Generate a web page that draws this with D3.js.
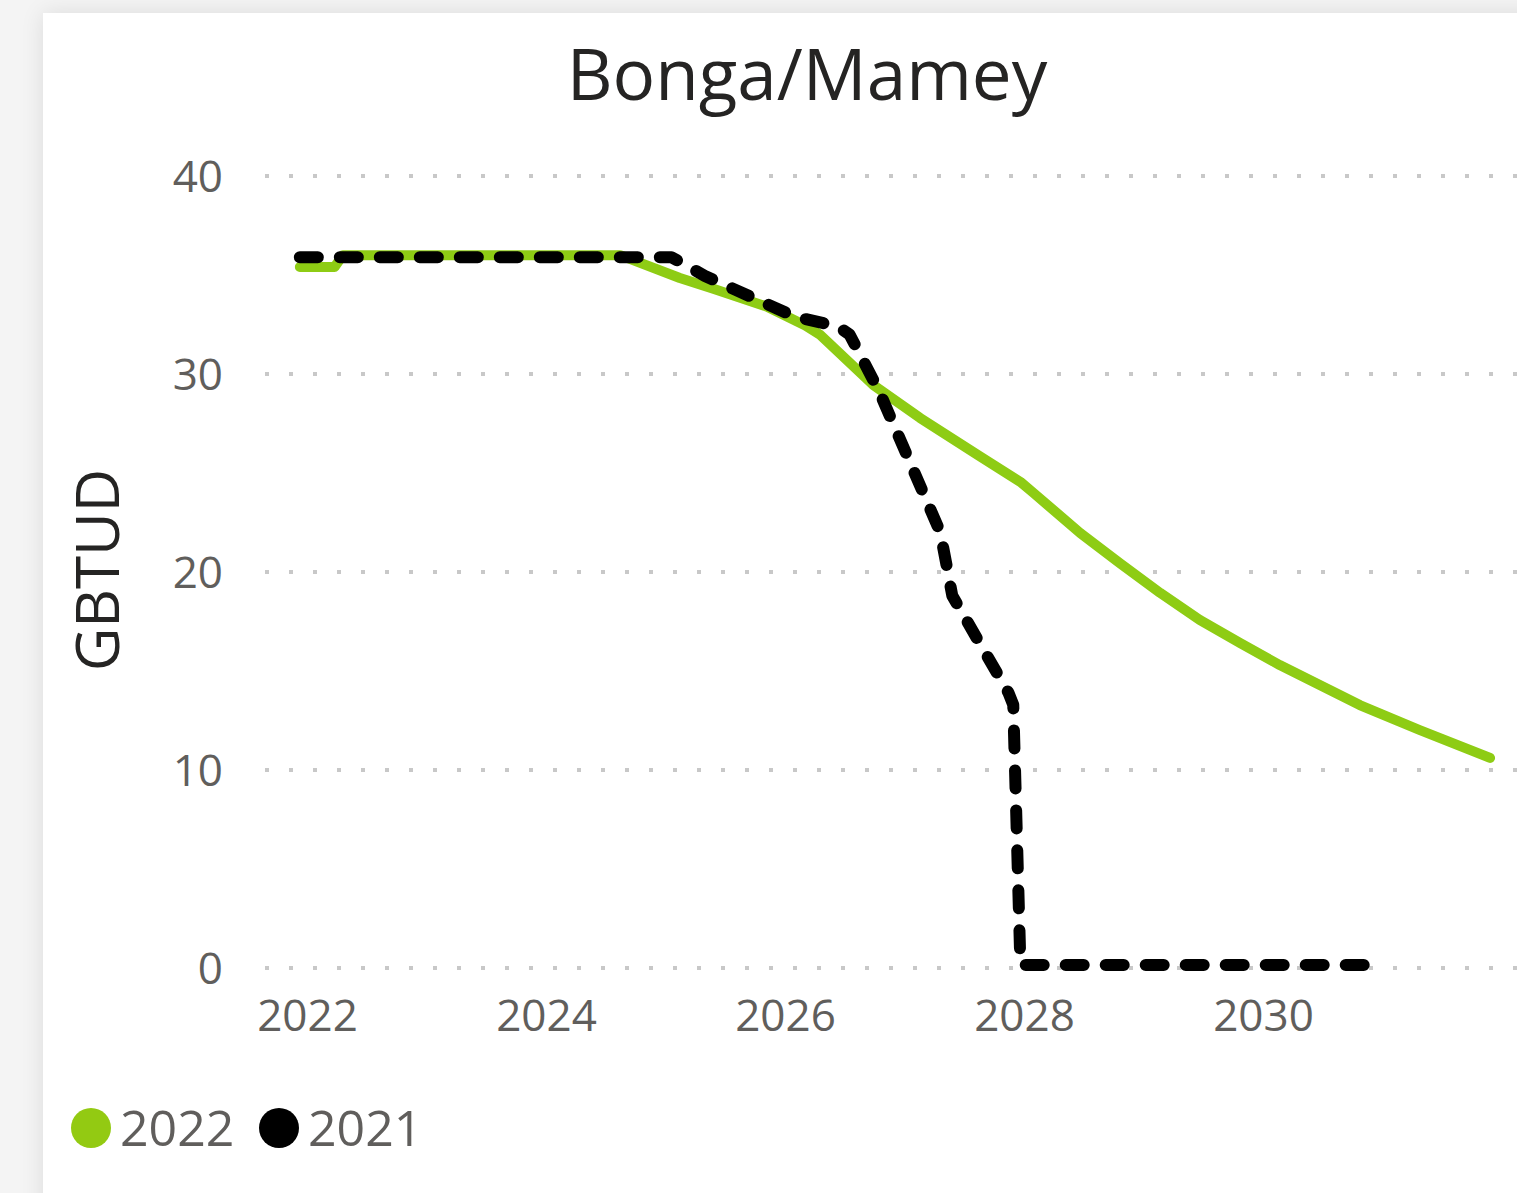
<!DOCTYPE html>
<html><head><meta charset="utf-8">
<script src="https://cdn.jsdelivr.net/npm/d3@7"></script>
<style>
html,body{margin:0;padding:0;background:#f4f4f4;width:1517px;height:1193px;overflow:hidden;}
#card{position:absolute;left:43px;top:13px;width:1600px;height:1300px;background:#fff;box-shadow:0 0 22px rgba(0,0,0,0.10);}
svg{position:absolute;left:0;top:0;}
</style></head><body>
<div id="card"></div>
<svg id="chart" width="1517" height="1193"></svg>
<script>
const title = "Bonga/Mamey";
const yAxisTitle = "GBTUD";
const seriesNames = ["2022", "2021"];
const seriesColors = ["#8ecc14", "#000000"];
const xTicks = [2022, 2024, 2026, 2028, 2030];
const yTicks = [0, 10, 20, 30, 40];

const years2022 = [2021.94, 2022.23, 2022.30, 2024.62, 2025.12, 2025.40, 2025.85, 2026.17, 2026.29, 2026.74, 2027.13, 2027.63, 2027.97, 2028.08, 2028.47, 2028.80, 2029.14, 2029.47, 2029.81, 2030.14, 2030.81, 2031.31, 2031.90];
const values2022 = [35.4, 35.4, 36.0, 36.0, 34.85, 34.3, 33.4, 32.45, 32.0, 29.44, 27.78, 25.85, 24.55, 23.99, 21.97, 20.45, 18.94, 17.58, 16.41, 15.30, 13.28, 12.02, 10.61];

const years2021 = [2021.94, 2025.05, 2025.33, 2026.08, 2026.44, 2026.54, 2026.79, 2027.30, 2027.40, 2027.87, 2027.91, 2027.97, 2030.90];
const values2021 = [35.9, 35.9, 34.95, 32.9, 32.4, 32.0, 29.1, 22.0, 18.8, 13.9, 13.3, 0.15, 0.15];

const svg = d3.select("#chart");
const FONT = "'Open Sans', 'Noto Sans', sans-serif";

const x = d3.scaleLinear().domain([2022, 2030]).range([307, 1263]);
const y = d3.scaleLinear().domain([0, 40]).range([968, 176]);

// title
svg.append("text").attr("x", 807).attr("y", 100).attr("text-anchor", "middle")
  .attr("font-family", FONT).attr("font-size", 71).attr("fill", "#252423").text(title);

// y labels
const yAxis = d3.axisLeft(y).tickValues(yTicks).tickSize(0).tickPadding(0);
const yg = svg.append("g").attr("transform", "translate(223,0)").call(yAxis);
yg.select(".domain").remove();
yg.selectAll("text").attr("font-family", FONT).attr("font-size", 44).attr("fill", "#605e5c")
  .attr("dy", "0.36em").attr("x", 0);

// grid
const grid = svg.append("g");
grid.selectAll("line").data(yTicks).join("line")
  .attr("x1", 265).attr("x2", 1517).attr("y1", d => y(d)).attr("y2", d => y(d))
  .attr("stroke", "#c8c8c8").attr("stroke-width", 4).attr("stroke-dasharray", "4 20");

// x axis
const xAxis = d3.axisBottom(x).tickValues(xTicks).tickFormat(d3.format("d")).tickSize(0).tickPadding(0);
const xg = svg.append("g").attr("transform", "translate(0,1031)").call(xAxis);
xg.select(".domain").remove();
xg.selectAll("text").attr("font-family", FONT).attr("font-size", 44).attr("fill", "#605e5c").attr("dy", 0).attr("y", 0);

// y axis title
svg.append("text").attr("transform", "translate(119,570) rotate(-90)").attr("text-anchor", "middle")
  .attr("font-family", FONT).attr("font-size", 60).attr("fill", "#252423").text(yAxisTitle);

// lines
const line = d3.line().x(d => x(d[0])).y(d => y(d[1]));
const d2022 = years2022.map((yr, i) => [yr, values2022[i]]);
const d2021 = years2021.map((yr, i) => [yr, values2021[i]]);

svg.append("path").attr("d", line(d2022)).attr("fill", "none")
  .attr("stroke", seriesColors[0]).attr("stroke-width", 10)
  .attr("stroke-linejoin", "round").attr("stroke-linecap", "round");
svg.append("path").attr("d", line(d2021)).attr("fill", "none")
  .attr("stroke", seriesColors[1]).attr("stroke-width", 12)
  .attr("stroke-dasharray", "18 22").attr("stroke-linejoin", "round").attr("stroke-linecap", "round");

// legend
const legendX = [91, 279];
const legendColors = ["#93ca12", "#000000"];
const lg = svg.append("g");
seriesNames.forEach((name, i) => {
  lg.append("circle").attr("cx", legendX[i]).attr("cy", 1128).attr("r", 20).attr("fill", legendColors[i]);
  lg.append("text").attr("x", legendX[i] + 29).attr("y", 1146).attr("font-family", FONT)
    .attr("font-size", 50).attr("fill", "#605e5c").text(name);
});
</script>
</body></html>
